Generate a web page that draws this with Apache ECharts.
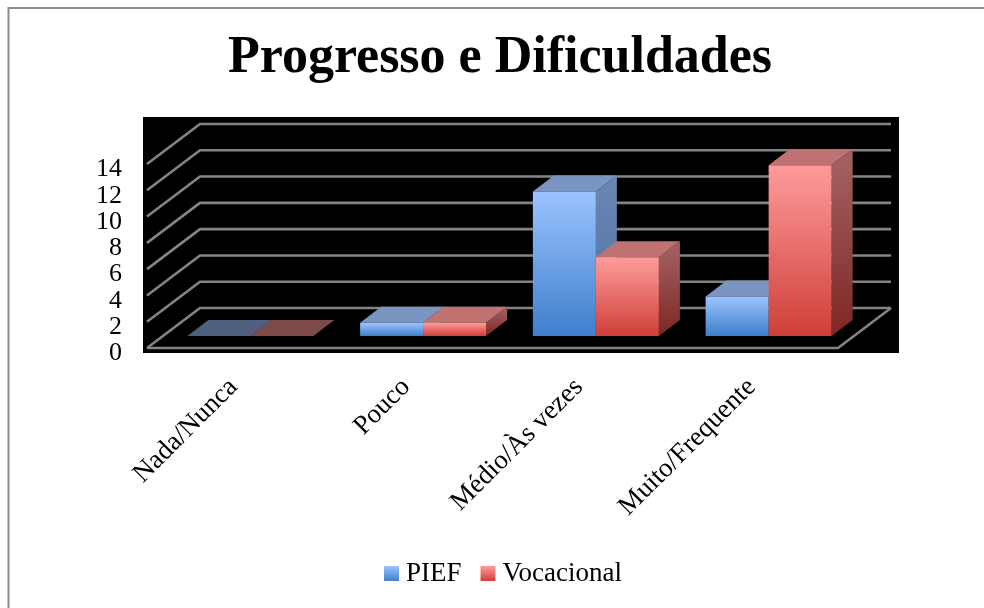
<!DOCTYPE html>
<html><head><meta charset="utf-8">
<style>html,body{margin:0;padding:0;background:#fff}#c{width:984px;height:608px}</style>
<script src="https://cdn.jsdelivr.net/npm/echarts@6/dist/echarts.min.js"></script>
</head><body><div id="c"></div>
<script>
const categories = ['Nada/Nunca','Pouco','Médio/Às vezes','Muito/Frequente'];
const pief = [0,1,11,3];
const vocacional = [0,1,6,13];
const yTicks = [0,2,4,6,8,10,12,14];
const FONT = '"Liberation Serif", serif';

function grad(a,b){return {type:'linear',x:0,y:0,x2:0,y2:1,colorStops:[{offset:0,color:a},{offset:1,color:b}]};}
const blue = {front:grad('#9CC3FF','#3E7FCC'), top:'#7A95C2', side:grad('#6C88B4','#4A6E9E')};
const red  = {front:grad('#FF9B9B','#CE3F38'), top:'#C07272', side:grad('#A46464','#7E2724')};

// 3D projection, in pixels
const DEPTH_X = 53, DEPTH_Y = 40;   // floor depth
const BAR_DX = 17, BAR_DY = 12;     // gap from the front edge to the bars
const SIDE_DX = 21, SIDE_DY = 16;   // bar depth
const BAR_W = 63;
const LINE = {stroke:'#848484',lineWidth:2.6,fill:null,lineJoin:'round'};

function barSeries(name, data, pal, dir){
  return {
    name, type:'custom', coordinateSystem:'cartesian2d', z:3,
    itemStyle:{color:pal.front},
    encode:{x:0,y:1},
    data:data.map((v,i)=>[i,v]),
    renderItem(params,api){
      const v = api.value(1);
      const base = api.coord([api.value(0),0]);
      const top = api.coord([api.value(0),v]);
      const xL = base[0] + BAR_DX + (dir<0 ? -BAR_W : 0);
      const xR = xL + BAR_W;
      const yB = base[1] - BAR_DY;
      const yT = top[1] - BAR_DY;
      const op = v === 0 ? 0.65 : 1;
      const kids = [];
      kids.push({type:'polygon',shape:{points:[[xL,yT],[xR,yT],[xR+SIDE_DX,yT-SIDE_DY],[xL+SIDE_DX,yT-SIDE_DY]]},style:{fill:pal.top,opacity:op}});
      if(v>0){
        kids.push({type:'polygon',shape:{points:[[xR,yT],[xR+SIDE_DX,yT-SIDE_DY],[xR+SIDE_DX,yB-SIDE_DY],[xR,yB]]},style:{fill:pal.side}});
        kids.push({type:'rect',shape:{x:xL,y:yT,width:BAR_W,height:yB-yT},style:{fill:pal.front}});
      }
      return {type:'group',children:kids};
    }
  };
}

const wallSeries = {
  name:'wall', type:'custom', coordinateSystem:'cartesian2d', z:2, silent:true,
  data:yTicks.map(t=>[0,t]),
  encode:{y:1},
  renderItem(params,api){
    const t = api.value(1);
    const band = api.size([1,0])[0];
    const y = api.coord([0,t])[1];
    const xa = api.coord([0,t])[0] - band/2;
    const xr = api.coord([categories.length-1,t])[0] + band/2;
    const kids = [{type:'polyline',shape:{points:[[xa,y],[xa+DEPTH_X,y-DEPTH_Y],[xr+DEPTH_X,y-DEPTH_Y]]},style:LINE}];
    if(t===0){
      kids.push({type:'polyline',shape:{points:[[xa,y],[xr,y],[xr+DEPTH_X,y-DEPTH_Y]]},style:LINE});
    }
    return {type:'group',children:kids};
  }
};

const chart = echarts.init(document.getElementById('c'),null,{renderer:'canvas'});
chart.setOption({
  animation:false,
  backgroundColor:'#fff',
  textStyle:{fontFamily:FONT},
  title:{text:'Progresso e Dificuldades',left:228,top:33,itemGap:0,padding:0,
    textStyle:{fontFamily:FONT,fontWeight:'bold',fontSize:52,color:'#000'}},
  graphic:[
    {type:'polyline',z:-2,shape:{points:[[8.5,608],[8.5,8],[984,8]]},style:{fill:null,stroke:'#8c8c8c',lineWidth:2}},
    {type:'rect',z:-1,shape:{x:143,y:117,width:756,height:236},style:{fill:'#000'}}
  ],
  legend:{data:['PIEF','Vocacional'],top:560,left:384,padding:0,icon:'rect',itemWidth:15,itemHeight:15,itemGap:19,
    textStyle:{fontFamily:FONT,fontSize:27,color:'#000',padding:[0,0,0,2]}},
  grid:{left:147,right:146,top:164,bottom:260,containLabel:false},
  xAxis:{type:'category',data:categories,axisLine:{show:false},axisTick:{show:false},splitLine:{show:false},
    axisLabel:{interval:0,rotate:45,margin:35,fontFamily:FONT,fontSize:27,color:'#000'}},
  yAxis:{type:'value',min:0,max:14,interval:2,axisLine:{show:false},axisTick:{show:false},splitLine:{show:false},
    axisLabel:{margin:25,fontFamily:FONT,fontSize:26,color:'#000',verticalAlign:'top',lineHeight:11,showMinLabel:true,showMaxLabel:true}},
  series:[wallSeries, barSeries('PIEF',pief,blue,-1), barSeries('Vocacional',vocacional,red,1)]
});
</script></body></html>
